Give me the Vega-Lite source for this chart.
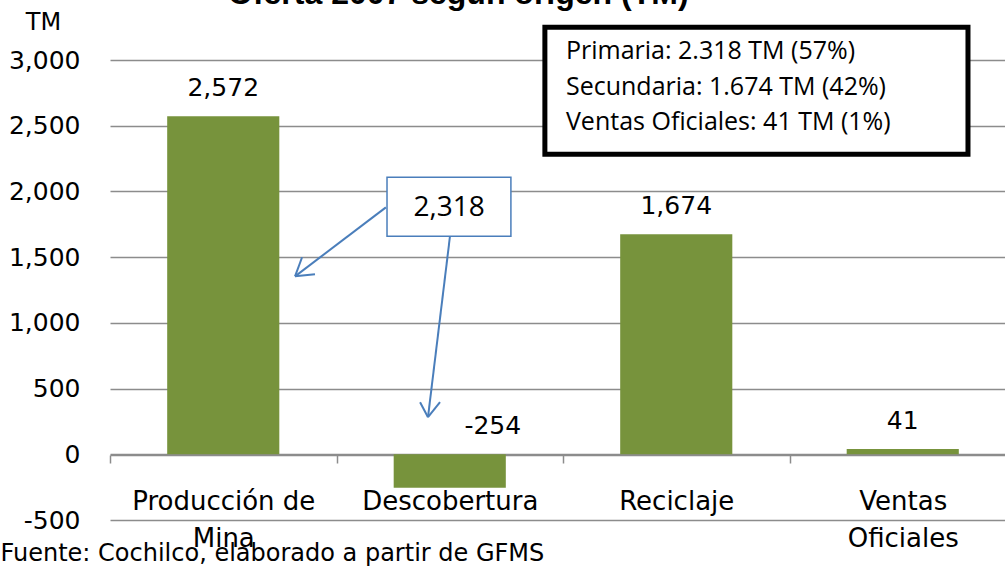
{
  "$schema": "https://vega.github.io/schema/vega-lite/v6.json",
  "width": 895,
  "height": 460,
  "autosize": "none",
  "padding": {"left": 110, "top": 60, "right": 0, "bottom": 49},
  "background": "white",
  "title": {
    "text": "Oferta 2007 según origen (TM)",
    "font": "Liberation Sans",
    "fontSize": 32,
    "fontWeight": "bold",
    "color": "black",
    "anchor": "start",
    "frame": "group",
    "dx": 118,
    "dy": 26,
    "baseline": "alphabetic",
    "offset": 0
  },
  "datasets": {
    "bars": [
      {"cat": "Producción de Mina", "value": 2572, "label": "2,572"},
      {"cat": "Descobertura", "value": -254, "label": "-254"},
      {"cat": "Reciclaje", "value": 1674, "label": "1,674"},
      {"cat": "Ventas Oficiales", "value": 41, "label": "41"}
    ],
    "legendBox": [{"x": 1.92, "x2": 3.788, "y": 3249, "y2": 2283}],
    "legendText": [
      {"x": 2.013, "y": 3066, "t": "Primaria: 2.318 TM (57%)"},
      {"x": 2.013, "y": 2792, "t": "Secundaria: 1.674 TM (42%)"},
      {"x": 2.013, "y": 2526, "t": "Ventas Oficiales: 41 TM (1%)"}
    ],
    "blueBox": [{"x": 1.223, "x2": 1.77, "y": 2108, "y2": 1659}],
    "blueText": [{"x": 1.497, "y": 1872, "t": "2,318"}],
    "arrows": [
      {"x": 1.218, "y": 1879, "x2": 0.817, "y2": 1354},
      {"x": 0.848, "y": 1499, "x2": 0.817, "y2": 1354},
      {"x": 0.905, "y": 1370, "x2": 0.817, "y2": 1354},
      {"x": 1.501, "y": 1659, "x2": 1.404, "y2": 282},
      {"x": 1.369, "y": 396, "x2": 1.404, "y2": 282},
      {"x": 1.457, "y": 396, "x2": 1.404, "y2": 282}
    ]
  },
  "layer": [
    {
      "data": {"name": "bars"},
      "mark": {"type": "bar", "color": "#77933C", "width": {"band": 0.495}},
      "encoding": {
        "x": {
          "field": "cat",
          "type": "nominal",
          "sort": null,
          "scale": {"domain": ["Producción de Mina", "Descobertura", "Reciclaje", "Ventas Oficiales"], "range": [0, 906], "paddingInner": 0, "paddingOuter": 0},
          "axis": {
            "orient": "bottom",
            "offset": -65,
            "title": "Fuente: Cochilco, elaborado a partir de GFMS",
            "titleX": -110,
            "titleY": 98,
            "titleAlign": "left",
            "titleBaseline": "middle",
            "titleFont": "DejaVu Sans",
            "titleFontSize": 24,
            "titleFontWeight": "normal",
            "titleColor": "black",
            "domainColor": "#8c8c8c",
            "domainWidth": 1.5,
            "tickColor": "#8c8c8c",
            "tickWidth": 1.5,
            "tickSize": 8,
            "tickBand": "extent",
            "labelAngle": 0,
            "labelFont": "DejaVu Sans",
            "labelFontSize": 26,
            "labelColor": "black",
            "labelPadding": 25,
            "labelLimit": 0,
            "labelLineHeight": 37,
            "labelBaseline": "top",
            "labelExpr": "datum.label == 'Producción de Mina' ? ['Producción de', 'Mina'] : datum.label == 'Ventas Oficiales' ? ['Ventas', 'Oficiales'] : datum.label",
            "grid": false
          }
        },
        "y": {
          "field": "value",
          "type": "quantitative",
          "title": "TM",
          "scale": {"domain": [-500, 3000], "nice": false, "zero": false},
          "axis": {"values": [-500, 0, 500, 1000, 1500, 2000, 2500, 3000]}
        }
      }
    },
    {
      "data": {"name": "bars"},
      "transform": [{"filter": "datum.value > 0"}],
      "mark": {"type": "text", "font": "DejaVu Sans", "fontSize": 25, "color": "black", "baseline": "bottom", "dy": -15},
      "encoding": {
        "x": {"field": "cat", "type": "nominal", "sort": null, "scale": {"domain": ["Producción de Mina", "Descobertura", "Reciclaje", "Ventas Oficiales"], "range": [0, 906], "paddingInner": 0, "paddingOuter": 0}, "axis": null},
        "y": {"field": "value", "type": "quantitative", "title": "TM"},
        "text": {"field": "label"}
      }
    },
    {
      "data": {"name": "bars"},
      "transform": [{"filter": "datum.value < 0"}],
      "mark": {"type": "text", "font": "DejaVu Sans", "fontSize": 25, "color": "black", "baseline": "bottom", "dy": -15, "dx": 43},
      "encoding": {
        "x": {"field": "cat", "type": "nominal", "sort": null, "scale": {"domain": ["Producción de Mina", "Descobertura", "Reciclaje", "Ventas Oficiales"], "range": [0, 906], "paddingInner": 0, "paddingOuter": 0}, "axis": null},
        "y": {"datum": 0, "type": "quantitative", "title": "TM"},
        "text": {"field": "label"}
      }
    },
    {
      "data": {"name": "legendBox"},
      "mark": {"type": "rect", "fill": "white", "stroke": "black", "strokeWidth": 5},
      "encoding": {
        "x": {"field": "x", "type": "quantitative", "scale": {"domain": [0, 4], "range": [0, 906], "nice": false, "zero": false}, "axis": null},
        "x2": {"field": "x2"},
        "y": {"field": "y", "type": "quantitative", "title": "TM"},
        "y2": {"field": "y2"}
      }
    },
    {
      "data": {"name": "legendText"},
      "mark": {"type": "text", "font": "Open Sans", "fontSize": 25, "color": "black", "align": "left", "baseline": "middle"},
      "encoding": {
        "x": {"field": "x", "type": "quantitative", "scale": {"domain": [0, 4], "range": [0, 906], "nice": false, "zero": false}, "axis": null},
        "y": {"field": "y", "type": "quantitative", "title": "TM"},
        "text": {"field": "t"}
      }
    },
    {
      "data": {"name": "arrows"},
      "mark": {"type": "rule", "stroke": "#4A7EBB", "strokeWidth": 2},
      "encoding": {
        "x": {"field": "x", "type": "quantitative", "scale": {"domain": [0, 4], "range": [0, 906], "nice": false, "zero": false}, "axis": null},
        "x2": {"field": "x2"},
        "y": {"field": "y", "type": "quantitative", "title": "TM"},
        "y2": {"field": "y2"}
      }
    },
    {
      "data": {"name": "blueBox"},
      "mark": {"type": "rect", "fill": "white", "stroke": "#4A7EBB", "strokeWidth": 1.5},
      "encoding": {
        "x": {"field": "x", "type": "quantitative", "scale": {"domain": [0, 4], "range": [0, 906], "nice": false, "zero": false}, "axis": null},
        "x2": {"field": "x2"},
        "y": {"field": "y", "type": "quantitative", "title": "TM"},
        "y2": {"field": "y2"}
      }
    },
    {
      "data": {"name": "blueText"},
      "mark": {"type": "text", "font": "Open Sans", "fontSize": 28, "color": "black", "align": "center", "baseline": "middle"},
      "encoding": {
        "x": {"field": "x", "type": "quantitative", "scale": {"domain": [0, 4], "range": [0, 906], "nice": false, "zero": false}, "axis": null},
        "y": {"field": "y", "type": "quantitative", "title": "TM"},
        "text": {"field": "t"}
      }
    }
  ],
  "resolve": {"scale": {"x": "independent"}},
  "config": {
    "view": {"stroke": null},
    "axisY": {
      "titleAngle": 0,
      "titleX": -67,
      "titleY": -38,
      "titleAlign": "center",
      "titleBaseline": "middle",
      "titleFont": "DejaVu Sans",
      "titleFontSize": 24,
      "titleFontWeight": "normal",
      "titleColor": "black",
      "labelFont": "DejaVu Sans",
      "labelFontSize": 25,
      "labelColor": "black",
      "labelPadding": 30,
      "labelExpr": "replace(format(datum.value, ','), '\u2212', '-')",
      "domain": false,
      "ticks": false,
      "grid": true,
      "gridColor": "#8c8c8c",
      "gridWidth": 1.5
    }
  }
}
